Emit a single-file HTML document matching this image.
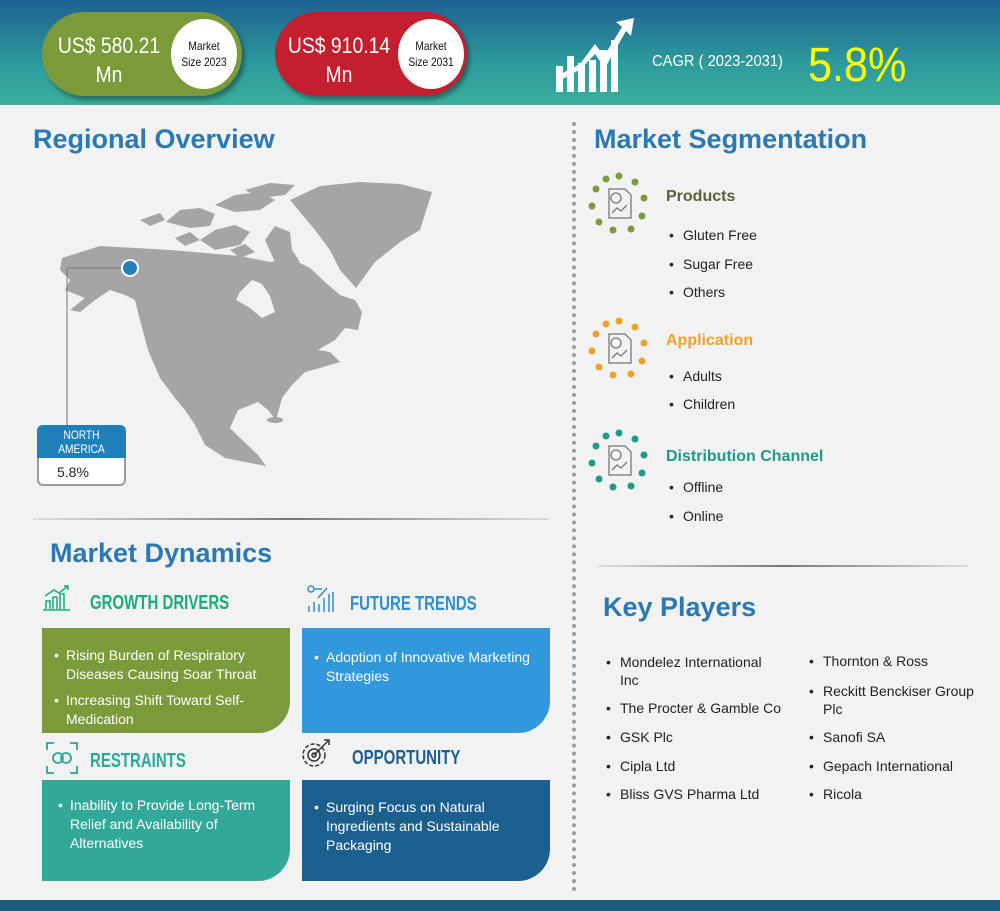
<!DOCTYPE html>
<html><head><meta charset="utf-8"><style>
*{margin:0;padding:0;box-sizing:border-box}
body{width:1000px;height:911px;background:#f2f2f2;font-family:"Liberation Sans",sans-serif;position:relative;overflow:hidden}
.a{position:absolute;white-space:nowrap}
.n{transform:scaleX(.8);transform-origin:0 0}
.hdr{left:0;top:0;width:1000px;height:105px;background:linear-gradient(#1d6191,#2d9a9c 60%,#3bae9c)}
.pill{height:84px;border-radius:42px;box-shadow:3px 4px 4px rgba(0,0,0,.35)}
.pv{color:#fff;font-size:22px;text-align:center;line-height:29px;transform:scaleX(.88);transform-origin:50% 0}
.circ{background:#fff;border-radius:50%;width:66px;height:70px}
.ct{font-size:12px;text-align:center;line-height:16px;color:#111;transform:scaleX(.85);transform-origin:50% 0}
.h1{color:#2a78b4;font-size:27px;font-weight:bold}
.dh{font-weight:bold;font-size:20px;transform:scaleX(.75);transform-origin:0 0}
.box{border-bottom-right-radius:32px;color:#fff;font-size:14px;line-height:19px;padding:18px 10px 0 24px}
.box p{position:relative;white-space:normal}
.box p:before{content:"•";position:absolute;left:-12px}
.li{font-size:14px;color:#222}
.li:before{content:"•";position:absolute;left:-14px}
</style></head><body>
<div class="a hdr"></div>
<div class="a pill" style="left:42px;top:12px;width:200px;background:#7b9a3a"></div>
<div class="a pv" style="left:50px;top:31px;width:118px">US$ 580.21<br>Mn</div>
<div class="a circ" style="left:171px;top:19px"></div>
<div class="a ct" style="left:171px;top:38px;width:66px">Market<br>Size 2023</div>
<div class="a pill" style="left:275px;top:12px;width:192px;background:#c31f2e"></div>
<div class="a pv" style="left:280px;top:31px;width:118px">US$ 910.14<br>Mn</div>
<div class="a circ" style="left:398px;top:19px"></div>
<div class="a ct" style="left:398px;top:38px;width:66px">Market<br>Size 2031</div>
<svg class="a" style="left:552px;top:16px" width="85" height="76" viewBox="0 0 85 76">
<g fill="#fff"><rect x="4" y="50" width="7" height="26"/><rect x="15" y="40" width="7" height="36"/><rect x="26" y="47" width="7" height="29"/><rect x="37" y="44" width="7" height="32"/><rect x="48" y="34" width="7" height="42"/><rect x="59" y="24" width="7" height="52"/>
<polygon points="82,2 64,6 70,11 52,40 43,28 28,48 5,60 5,66 29,53 43,38 53,52 74,15 79,20"/></g></svg>
<div class="a n" style="left:652px;top:53px;color:#fff;font-size:16px;transform:scaleX(.92)">CAGR ( 2023-2031)</div>
<div class="a n" style="left:808px;top:38px;color:#ffff00;font-size:48px;transform:scaleX(.9)">5.8%</div>

<div class="a" style="left:572px;top:122px;height:770px;border-left:4px dotted #9a9a9a"></div>
<div class="a h1" style="left:33px;top:124px">Regional Overview</div>
<svg class="a" style="left:0;top:170px" width="440" height="320" viewBox="0 170 440 320">
<g fill="#a5a5a5">
<polygon points="62,258 100,246 170,250 240,256 270,262 290,258 310,268 325,282 340,295 355,300 362,312 358,330 345,328 335,340 318,350 330,352 340,362 320,368 305,372 292,385 282,398 276,420 268,410 258,402 238,410 230,428 240,438 258,455 266,466 245,462 225,458 205,445 195,425 185,410 175,398 160,378 148,350 140,320 135,300 125,295 110,290 95,300 80,312 70,310 85,298 65,290 70,280 60,270"/>
<polygon points="290,200 320,186 360,182 400,184 432,192 420,230 400,242 375,262 356,288 340,270 330,250 315,230 300,212"/>
<polygon points="166,222 180,210 200,208 215,214 210,226 190,228"/>
<polygon points="200,240 215,230 235,225 250,232 240,245 215,250"/>
<polygon points="215,205 235,195 260,192 275,200 260,210 235,212"/>
<polygon points="245,190 270,183 295,185 285,195 260,198"/>
<polygon points="265,240 275,226 290,232 292,250 300,262 275,262"/>
<polygon points="175,238 190,232 200,240 185,246"/>
<polygon points="140,220 160,213 165,220 150,226"/>
<polygon points="230,250 245,244 255,252 240,258"/>
<ellipse cx="275" cy="420" rx="8" ry="3"/>
</g>
<polygon points="240,292 252,280 262,284 270,296 275,312 262,318 250,308 236,300" fill="#f2f2f2"/>
<path d="M130,268 H67 V426" stroke="#777" stroke-width="1" fill="none"/>
<circle cx="130" cy="268" r="8" fill="#1f7fb8" stroke="#fff" stroke-width="2"/>
</svg>
<div class="a" style="left:37px;top:425px;width:89px;height:61px;border:2px solid #9a9a9a;border-radius:6px;background:#fff"></div>
<div class="a" style="left:37px;top:425px;width:89px;height:33px;background:#1f7fb8;border-radius:6px 6px 0 0"></div>
<div class="a ct" style="left:37px;top:428px;width:89px;color:#fff;font-size:12px;line-height:14px">NORTH<br>AMERICA</div>
<div class="a" style="left:57px;top:464px;font-size:14px;color:#222">5.8%</div>
<div class="a" style="left:33px;top:518px;width:516px;height:2px;background:linear-gradient(90deg,#ddd,#777 50%,#ddd)"></div>

<div class="a h1" style="left:50px;top:538px">Market Dynamics</div>
<svg class="a" style="left:42px;top:584px" width="30" height="28"><g fill="none" stroke="#1aab77" stroke-width="1.5"><path d="M1,26H28M4,25V17H8V25M11,25V13H15V25M18,25V10H22V25M3,12L12,6 17,9 26,2M22,2H26V6"/></g></svg>
<div class="a dh" style="left:90px;top:592px;color:#1aab77">GROWTH DRIVERS</div>
<svg class="a" style="left:305px;top:584px" width="32" height="30"><g fill="none" stroke="#2e8fd0" stroke-width="1.5"><circle cx="6" cy="5" r="3"/><path d="M10,5H17M13,14L22,4M4,28V22M9,28V18M14,28V20M19,28V14M24,28V10M28,28V8"/></g></svg>
<div class="a dh" style="left:350px;top:593px;color:#2e8fd0">FUTURE TRENDS</div>
<div class="a box" style="left:42px;top:628px;width:248px;height:105px;background:#7b9a3a"><p>Rising Burden of Respiratory Diseases Causing Soar Throat</p><p style="margin-top:7px">Increasing Shift Toward Self-Medication</p></div>
<div class="a box" style="left:302px;top:628px;width:248px;height:105px;background:#3198dc;padding-top:20px"><p>Adoption of Innovative Marketing Strategies</p></div>
<svg class="a" style="left:46px;top:742px" width="32" height="32"><g fill="none" stroke="#2aa89a" stroke-width="1.8"><path d="M1,8V1H8M24,1H31V8M1,24V31H8M24,31H31V24"/><circle cx="12" cy="16" r="5"/><circle cx="20" cy="16" r="5"/></g></svg>
<div class="a dh" style="left:90px;top:750px;color:#2aa89a">RESTRAINTS</div>
<svg class="a" style="left:300px;top:737px" width="32" height="32"><g fill="none" stroke="#333" stroke-width="1.5"><circle cx="14" cy="18" r="11" stroke-dasharray="4 2"/><circle cx="14" cy="18" r="6"/><circle cx="14" cy="18" r="2"/><path d="M14,18L28,4M24,3L29,3 29,8"/></g></svg>
<div class="a dh" style="left:352px;top:747px;color:#1d5f8e">OPPORTUNITY</div>
<div class="a box" style="left:42px;top:780px;width:248px;height:101px;background:#32a998;padding:16px 10px 0 28px"><p>Inability to Provide Long-Term Relief and Availability of Alternatives</p></div>
<div class="a box" style="left:302px;top:780px;width:248px;height:101px;background:#1b5f8e;padding-top:18px"><p>Surging Focus on Natural Ingredients and Sustainable Packaging</p></div>

<div class="a h1" style="left:594px;top:124px">Market Segmentation</div>
<svg class="a" style="left:585px;top:172px" width="70" height="330">
<g fill="#7b9a3a"><circle cx="34" cy="4" r="3.5"/><circle cx="50" cy="10" r="3.5"/><circle cx="59" cy="26" r="3.5"/><circle cx="57" cy="44" r="3.5"/><circle cx="46" cy="57" r="3.5"/><circle cx="28" cy="58" r="3.5"/><circle cx="14" cy="50" r="3.5"/><circle cx="7" cy="34" r="3.5"/><circle cx="11" cy="17" r="3.5"/><circle cx="21" cy="7" r="3.5"/></g>
<g transform="translate(0,145)" fill="#efa12a"><circle cx="34" cy="4" r="3.5"/><circle cx="50" cy="10" r="3.5"/><circle cx="59" cy="26" r="3.5"/><circle cx="57" cy="44" r="3.5"/><circle cx="46" cy="57" r="3.5"/><circle cx="28" cy="58" r="3.5"/><circle cx="14" cy="50" r="3.5"/><circle cx="7" cy="34" r="3.5"/><circle cx="11" cy="17" r="3.5"/><circle cx="21" cy="7" r="3.5"/></g>
<g transform="translate(0,257)" fill="#1d9a88"><circle cx="34" cy="4" r="3.5"/><circle cx="50" cy="10" r="3.5"/><circle cx="59" cy="26" r="3.5"/><circle cx="57" cy="44" r="3.5"/><circle cx="46" cy="57" r="3.5"/><circle cx="28" cy="58" r="3.5"/><circle cx="14" cy="50" r="3.5"/><circle cx="7" cy="34" r="3.5"/><circle cx="11" cy="17" r="3.5"/><circle cx="21" cy="7" r="3.5"/></g>
<g fill="none" stroke="#777" stroke-width="1.3"><path d="M24,17H40L46,23V46H24Z"/><circle cx="31" cy="26" r="5"/><path d="M27,41L32,36 36,39 42,33"/>
<g transform="translate(0,145)"><path d="M24,17H40L46,23V46H24Z"/><circle cx="31" cy="26" r="5"/><path d="M27,41L32,36 36,39 42,33"/></g>
<g transform="translate(0,257)"><path d="M24,17H40L46,23V46H24Z"/><circle cx="31" cy="26" r="5"/><path d="M27,41L32,36 36,39 42,33"/></g></g>
</svg>
<div class="a" style="left:666px;top:188px;font-size:16px;font-weight:bold;color:#5e5e3a">Products</div>
<div class="a li" style="left:683px;top:227px">Gluten Free</div>
<div class="a li" style="left:683px;top:256px">Sugar Free</div>
<div class="a li" style="left:683px;top:284px">Others</div>
<div class="a" style="left:666px;top:332px;font-size:16px;font-weight:bold;color:#efa12a">Application</div>
<div class="a li" style="left:683px;top:368px">Adults</div>
<div class="a li" style="left:683px;top:396px">Children</div>
<div class="a" style="left:666px;top:448px;font-size:16px;font-weight:bold;color:#1d9a88">Distribution Channel</div>
<div class="a li" style="left:683px;top:479px">Offline</div>
<div class="a li" style="left:683px;top:508px">Online</div>
<div class="a" style="left:598px;top:565px;width:370px;height:2px;background:linear-gradient(90deg,#ddd,#777 50%,#ddd)"></div>

<div class="a h1" style="left:603px;top:592px">Key Players</div>
<div class="a li" style="left:620px;top:653px;line-height:18px">Mondelez International<br>Inc</div>
<div class="a li" style="left:620px;top:700px">The Procter &amp; Gamble Co</div>
<div class="a li" style="left:620px;top:729px">GSK Plc</div>
<div class="a li" style="left:620px;top:758px">Cipla Ltd</div>
<div class="a li" style="left:620px;top:786px">Bliss GVS Pharma Ltd</div>
<div class="a li" style="left:823px;top:653px">Thornton &amp; Ross</div>
<div class="a li" style="left:823px;top:682px;line-height:18px">Reckitt Benckiser Group<br>Plc</div>
<div class="a li" style="left:823px;top:729px">Sanofi SA</div>
<div class="a li" style="left:823px;top:758px">Gepach International</div>
<div class="a li" style="left:823px;top:786px">Ricola</div>
<div class="a" style="left:0;top:900px;width:1000px;height:11px;background:#1d5a7c"></div>
</body></html>
